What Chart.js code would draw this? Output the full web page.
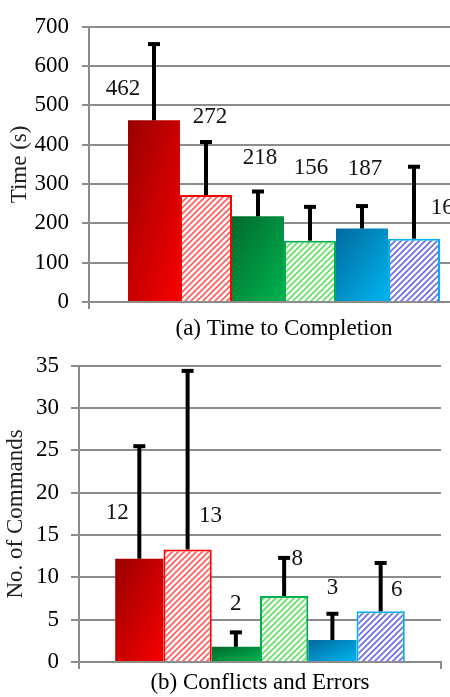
<!DOCTYPE html>
<html>
<head>
<meta charset="utf-8">
<script src="https://cdn.jsdelivr.net/npm/chart.js@4"></script>
<style>
  html, body { margin: 0; padding: 0; background: #fff; overflow: hidden; width: 450px; height: 697px; }
  #time { position: absolute; left: 0; top: 0; }
  #conflicts { position: absolute; left: 0; top: 340px; }
</style>
</head>
<body>
<canvas id="time" width="480" height="340"></canvas>
<canvas id="conflicts" width="450" height="357"></canvas>
<script>
// (a) time to completion, seconds
const timeMeans = [462, 272, 218, 156, 187, 161];
const timeErrors = [194, 135, 63, 86, 57, 183];
const timeTicks = [0, 100, 200, 300, 400, 500, 600, 700];

// (b) conflicts and errors, number of commands
const cmdMeans = [12.2, 13.3, 1.8, 7.8, 2.6, 6.0];
const cmdErrors = [13.3, 21.1, 1.7, 4.5, 3.1, 5.7];
const cmdTicks = [0, 5, 10, 15, 20, 25, 30, 35];

const GRID = '#8c8c8c';
const FS = 23;
Chart.defaults.font.family = "'Liberation Serif', 'Times New Roman', serif";
Chart.defaults.font.size = FS;
Chart.defaults.color = '#000';

function hatch(color) {
  const c = document.createElement('canvas');
  c.width = c.height = 6;
  const g = c.getContext('2d');
  g.fillStyle = '#fff';
  g.fillRect(0, 0, 6, 6);
  g.strokeStyle = color;
  g.lineWidth = 1.6;
  g.beginPath();
  g.moveTo(-1, 7); g.lineTo(7, -1);
  g.moveTo(-1, 1); g.lineTo(1, -1);
  g.moveTo(5, 7); g.lineTo(7, 5);
  g.stroke();
  return g.createPattern(c, 'repeat');
}

// diagonal shade scaled to the bar box, dark at top-left
function shade(dark, light) {
  return (ctx) => {
    const chart = ctx.chart;
    const xs = chart.scales.x, ys = chart.scales.y;
    if (!chart.chartArea || !xs || !ys) return light;
    const n = chart.data.datasets.length;
    const w = (xs.right - xs.left) * 0.8 / n;
    const left = (xs.left + xs.right) / 2 - w * n / 2 + ctx.datasetIndex * w;
    const top = ys.getPixelForValue(ctx.raw);
    const h = Math.max(ys.getPixelForValue(0) - top, 1);
    const k = 2 * w * h / (w * w + h * h);
    const g = chart.ctx.createLinearGradient(left, top, left + h * k, top + w * k);
    g.addColorStop(0, dark);
    g.addColorStop(1, light);
    return g;
  };
}

const barStyles = [
  { backgroundColor: shade('#990000', '#f80000'), borderWidth: 0 },
  { backgroundColor: hatch('#ff5a5a'), borderColor: '#ff0000', borderWidth: 2 },
  { backgroundColor: shade('#006a2c', '#00b450'), borderWidth: 0 },
  { backgroundColor: hatch('#5fe05f'), borderColor: '#00b050', borderWidth: 2 },
  { backgroundColor: shade('#006a9c', '#00b6f2'), borderWidth: 0 },
  { backgroundColor: hatch('#6a6af0'), borderColor: '#00b0f0', borderWidth: 2 }
];

const errorBars = {
  id: 'errorBars',
  afterDatasetsDraw(chart, args, opts) {
    const ctx = chart.ctx;
    const ys = chart.scales.y;
    ctx.save();
    ctx.fillStyle = '#000';
    chart.data.datasets.forEach((ds, i) => {
      const bar = chart.getDatasetMeta(i).data[0];
      const top = ys.getPixelForValue(ds.data[0] + ds.err);
      ctx.fillRect(bar.x - 2, top, 4, bar.y - top);
      ctx.fillRect(bar.x - 6, top - 2, 12, 4);
    });
    ctx.font = FS + "px 'Liberation Serif', serif";
    ctx.textAlign = 'center';
    ctx.textBaseline = 'middle';
    ctx.fillStyle = '#111';
    chart.data.datasets.forEach((ds, i) => {
      const bar = chart.getDatasetMeta(i).data[0];
      const s = opts.shift[i];
      ctx.fillText(String(Math.round(ds.data[0])), bar.x + s[0], bar.y + s[1]);
    });
    ctx.restore();
  }
};

function build(id, means, errors, ticks, cfg) {
  new Chart(document.getElementById(id), {
    type: 'bar',
    data: {
      labels: [''],
      datasets: means.map((v, i) => Object.assign({ data: [v], err: errors[i] }, barStyles[i]))
    },
    options: {
      responsive: false,
      animation: false,
      events: [],
      layout: { padding: cfg.padding },
      datasets: { bar: { barPercentage: 1, categoryPercentage: 0.8 } },
      scales: {
        x: {
          ticks: { display: false },
          grid: { offset: true, drawOnChartArea: false, tickLength: 7, color: GRID, lineWidth: 2 },
          border: { color: GRID, width: 2 },
          title: { display: true, text: cfg.xTitle, font: { size: FS, lineHeight: 1 }, padding: { top: 0, bottom: cfg.xTitlePad } },
          afterFit: (s) => { s.height = cfg.xHeight; }
        },
        y: {
          min: ticks[0],
          max: ticks[ticks.length - 1],
          afterBuildTicks: (s) => { s.ticks = ticks.map(v => ({ value: v })); },
          ticks: { padding: cfg.tickPad, font: { size: FS } },
          grid: { color: GRID, lineWidth: 2, tickLength: cfg.tickLen },
          border: { color: GRID, width: 2 },
          title: { display: true, text: cfg.yTitle, color: '#222', font: { size: FS, lineHeight: 1 }, padding: { top: cfg.yTitlePad, bottom: 0 } },
          afterFit: (s) => { s.width = cfg.yWidth; }
        }
      },
      plugins: {
        legend: { display: false },
        tooltip: { enabled: false },
        errorBars: { shift: cfg.labelShift }
      }
    },
    plugins: [errorBars]
  });
}

build('time', timeMeans, timeErrors, timeTicks, {
  padding: { top: 15, right: 1, bottom: 0, left: 0 },
  xTitle: '(a) Time to Completion', xTitlePad: 0, xHeight: 38,
  yTitle: 'Time (s)', yTitlePad: 8, yWidth: 89, tickPad: 13, tickLen: 7,
  labelShift: [[-31, -31], [4, -78], [2, -58], [1, -73], [3, -60], [34, -31]]
});

build('conflicts', cmdMeans, cmdErrors, cmdTicks, {
  padding: { top: 17, right: 9, bottom: 0, left: 0 },
  xTitle: '(b) Conflicts and Errors', xTitlePad: 3, xHeight: 35,
  yTitle: 'No. of Commands', yTitlePad: 4, yWidth: 79, tickPad: 12, tickLen: 8,
  labelShift: [[-22, -46], [23, -33], [0, -43], [13, -37], [0, -52], [16, -21]]
});
</script>
</body>
</html>
